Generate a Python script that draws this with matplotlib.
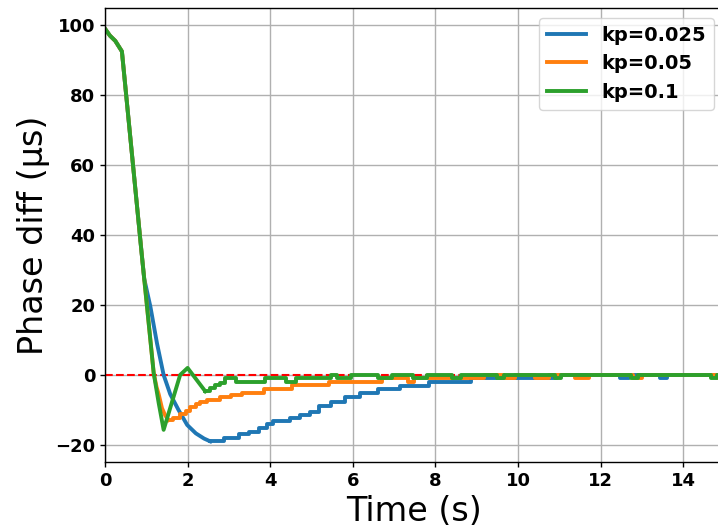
import matplotlib
matplotlib.use('Agg')
import matplotlib.pyplot as plt

# ---------------- data ----------------
t_end = 14.97

# common initial descent shared by all three controllers
common_t = [0.0, 0.12, 0.25, 0.41, 0.88]
common_v = [99.0, 97.0, 95.5, 92.5, 35.7]

# kp = 0.025 (blue)
blue_ramp_t = [0.88, 0.95, 1.10, 1.26, 1.42, 1.58, 1.78, 1.99, 2.20, 2.40, 2.55]
blue_ramp_v = [35.7, 27.5, 19.5, 9.0, 0.0, -5.5, -10.0, -14.3, -16.7, -18.2, -19.0]
blue_step_t = [2.55, 2.87, 3.24, 3.48, 3.72, 3.92, 4.08, 4.49, 4.73, 4.97, 5.17,
               5.48, 5.80, 6.18, 6.60, 7.15, 7.84, 8.85, 10.94, 12.48, 12.68,
               13.44, 13.60, t_end]
blue_step_v = [-19.0, -18.1, -17.0, -16.2, -15.2, -14.1, -13.3, -12.4, -11.4, -10.5,
               -9.0, -7.6, -6.2, -5.1, -4.1, -3.1, -1.9, -1.0, 0.0, -1.0, 0.0,
               -1.0, 0.0, 0.0]

# kp = 0.05 (orange)
orange_ramp_t = [0.88, 1.18, 1.25, 1.30, 1.38, 1.46, 1.54]
orange_ramp_v = [35.7, 0.5, -3.5, -5.5, -9.5, -11.6, -12.9]
orange_step_t = [1.54, 1.65, 1.82, 1.95, 2.06, 2.20, 2.31, 2.48, 2.79, 3.04, 3.32,
                 3.86, 4.52, 5.42, 6.70, 7.33, 7.49, 9.17, 9.65, 9.93, 10.42,
                 10.74, 11.38, 11.71, 12.79, 12.99, 14.85, t_end]
orange_step_v = [-12.9, -12.3, -11.2, -10.3, -9.1, -8.4, -7.8, -7.1, -6.2, -5.7,
                 -5.2, -3.9, -2.9, -1.9, -1.0, -1.9, -1.0, 0.0, -1.0, 0.0, -1.0,
                 0.0, -1.0, 0.0, -1.0, 0.0, -1.0, -1.0]

# kp = 0.1 (green)
green_ramp_t = [0.88, 1.18, 1.30, 1.42, 1.82, 2.00, 2.43]
green_ramp_v = [35.7, 0.5, -8.0, -15.7, 0.0, 2.0, -4.7]
green_step_t = [2.43, 2.55, 2.66, 2.79, 2.91, 3.17, 3.87, 4.39, 4.63, 5.48, 5.62,
                5.95, 6.60, 6.95, 7.45, 7.80, 8.40, 8.62, 9.50, 9.65, 10.90,
                11.05, 12.73, 12.90, 14.66, 14.82, t_end]
green_step_v = [-4.7, -3.8, -3.0, -2.2, -1.0, -1.9, -1.0, -1.9, -1.0, 0.0, -1.0,
                0.0, -1.0, 0.0, -1.0, 0.0, -1.0, 0.0, -1.0, 0.0, -1.0, 0.0,
                -1.0, 0.0, -1.0, 0.0, 0.0]

labels = ['kp=0.025', 'kp=0.05', 'kp=0.1']
colors = ['#1f77b4', '#ff7f0e', '#2ca02c']
x_ticks = [0, 2, 4, 6, 8, 10, 12, 14]
y_ticks = [-20, 0, 20, 40, 60, 80, 100]

# ---------------- figure ----------------
fig = plt.figure(figsize=(7.18, 5.31), dpi=100)
ax = fig.add_axes([0.1462, 0.1299, 0.8612, 0.855])

ax.axhline(0, color='red', linestyle='--', linewidth=1.5, zorder=1.9)

series = [
    (blue_ramp_t, blue_ramp_v, blue_step_t, blue_step_v),
    (orange_ramp_t, orange_ramp_v, orange_step_t, orange_step_v),
    (green_ramp_t, green_ramp_v, green_step_t, green_step_v),
]
lw = 2.8
for (rt, rv, st, sv), lab, col in zip(series, labels, colors):
    ax.plot(common_t + rt[1:], common_v + rv[1:], color=col, linewidth=lw, label=lab)
    ax.step(st, sv, where='post', color=col, linewidth=lw)

ax.set_xlim(0, t_end)
ax.set_ylim(-24.9, 104.9)
ax.set_xticks(x_ticks)
ax.set_yticks(y_ticks)
ax.grid(True, color='#b0b0b0', linewidth=1.0)
ax.set_axisbelow(True)

for lbl in ax.get_xticklabels() + ax.get_yticklabels():
    lbl.set_fontweight('bold')
ax.tick_params(labelsize=13, width=1.0)
for sp in ax.spines.values():
    sp.set_linewidth(1.0)

ax.set_xlabel('Time (s)', fontsize=24)
ax.set_ylabel('Phase diff (\u03bcs)', fontsize=24)

ax.legend(loc='upper right', prop={'weight': 'bold', 'size': 14})

fig.savefig('out.png', dpi=100)
